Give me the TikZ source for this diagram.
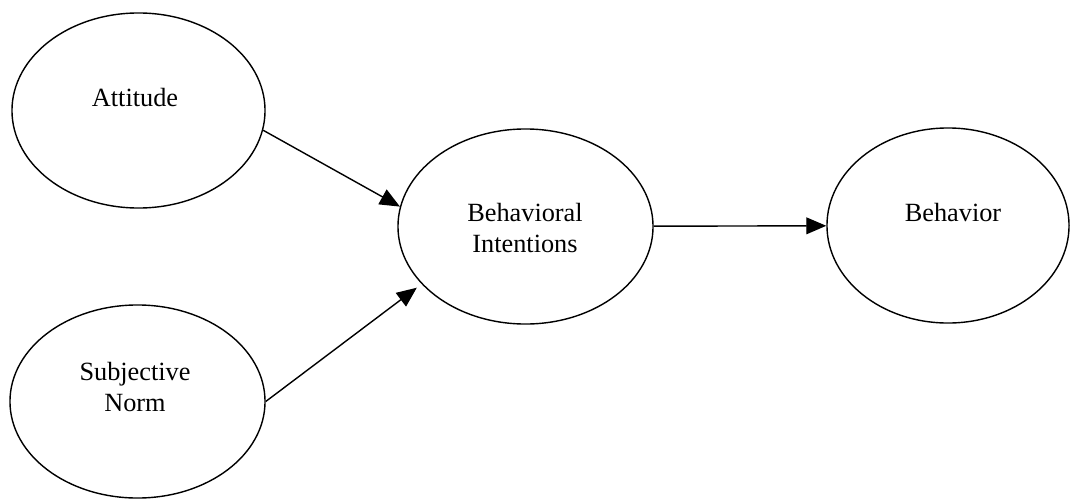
\documentclass[tikz,border=0pt]{standalone}
\usepackage{fontspec}
\setmainfont{Liberation Serif}
\usepackage{tikz}
\usetikzlibrary{shapes.geometric,arrows.meta}

\begin{document}
\begin{tikzpicture}[>={Triangle[length=0.5cm,width=0.42cm]},x=0.025cm,y=-0.025cm,
  blob/.style={draw,ellipse,line width=1pt,inner sep=0pt,
    minimum width=6.375cm,minimum height=4.875cm},
  lbl/.style={font=\fontsize{18.7}{22.5}\selectfont,align=center,inner sep=0pt},
  link/.style={->,line width=1pt}]
  %
  % Frame
  \useasboundingbox (0,0) rectangle (1070,499);
  %
  % Ellipses
  \node[blob,minimum width=6.325cm] (att) at (138.5,110.5) {};
  \node[blob,minimum height=4.825cm] (sn) at (137.5,401.5) {};
  \node[blob] (bi) at (525.5,226.5) {};
  \node[blob,minimum width=6.05cm] (beh) at (948,225.5) {};
  %
  % Labels
  \node[lbl] (attlbl) at (135,98) {Attitude};
  \node[lbl] (snlbl) at (135,387) {Subjective\\Norm};
  \node[lbl] (bilbl) at (525,228) {Behavioral\\Intentions};
  \node[lbl] (behlbl) at (953,212.5) {Behavior};
  %
  % Arrows
  \draw[link] (att.-9) -- (bi.171);
  \draw[link,shorten >=0.15cm] (sn.east) -- (bi.209);
  \draw[link] (bi) -- (beh);
  %
\end{tikzpicture}
\end{document}
